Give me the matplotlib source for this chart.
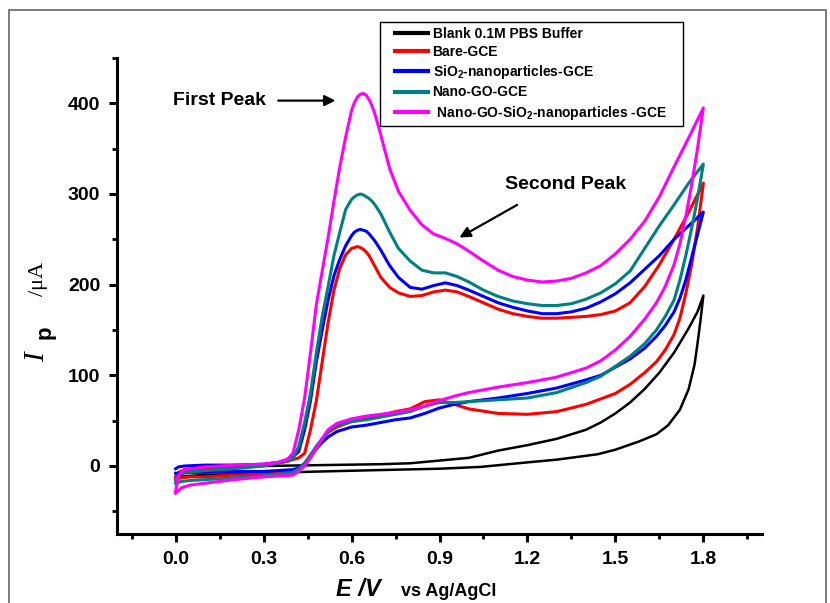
import matplotlib
matplotlib.use('Agg')
import matplotlib.pyplot as plt
from matplotlib.ticker import MultipleLocator, FixedLocator
from matplotlib.patches import Rectangle

plt.rcParams['font.family'] = ['Liberation Sans', 'DejaVu Sans']
plt.rcParams['font.weight'] = 'bold'
plt.rcParams['mathtext.fontset'] = 'custom'
plt.rcParams['mathtext.rm'] = 'Liberation Sans:bold'
plt.rcParams['mathtext.bf'] = 'Liberation Sans:bold'
plt.rcParams['mathtext.it'] = 'Liberation Sans:bold:italic'
plt.rcParams['mathtext.default'] = 'bf'

# potential grid of the anodic sweep (0 -> 1.8 V) and the return sweep
E_fwd = [0.0, 0.01, 0.03, 0.1, 0.2, 0.3, 0.35, 0.38,
         0.40, 0.42, 0.44, 0.46, 0.48, 0.50, 0.52, 0.54, 0.56, 0.58, 0.60,
         0.61, 0.62, 0.63, 0.64, 0.65, 0.66, 0.67, 0.68,
         0.70, 0.73, 0.76,
         0.80, 0.84, 0.88, 0.92, 0.96,
         1.00, 1.05, 1.10, 1.15, 1.20, 1.25, 1.30, 1.35, 1.40, 1.45, 1.50,
         1.55, 1.60, 1.65, 1.70, 1.75, 1.80]
E_rev = [1.80, 1.78, 1.76, 1.74, 1.72, 1.70, 1.67, 1.64, 1.60, 1.55, 1.50,
         1.45, 1.40, 1.30, 1.20, 1.10, 1.00, 0.95, 0.90, 0.85, 0.80, 0.75,
         0.70, 0.65, 0.60, 0.55, 0.52, 0.50, 0.48, 0.46, 0.44, 0.42, 0.40,
         0.35, 0.30, 0.20, 0.10, 0.05, 0.02, 0.00]

# blank buffer has its own grid
E_blank_fwd = [0.0, 0.02, 0.05, 0.1, 0.2, 0.3, 0.5, 0.7, 0.8, 0.9, 1.0, 1.05,
               1.1, 1.2, 1.3, 1.4, 1.45, 1.5, 1.55, 1.6, 1.65, 1.7, 1.75,
               1.78, 1.8]
I_blank_fwd = [-15, -8, -5, -3, -1, 0, 1, 2, 3, 6, 9, 13, 17, 23, 30, 40, 48,
               58, 70, 85, 103, 125, 152, 170, 188]
E_blank_rev = [1.8, 1.79, 1.78, 1.77, 1.75, 1.72, 1.68, 1.64, 1.58, 1.5,
               1.44, 1.3, 1.2, 1.04, 0.9, 0.76, 0.5, 0.38, 0.2, 0.085, 0.0]
I_blank_rev = [188, 160, 135, 112, 85, 62, 45, 35, 27, 18, 13, 7, 4, -1, -3,
               -4, -6, -7, -9, -10, -12]

I_bare_fwd = [-12, -7, -4, -3, -1, 1, 3, 5,
              7, 9, 14, 40, 72, 115, 158, 194, 218, 233, 240,
              241, 242, 241, 239, 236, 232, 226, 220,
              208, 197, 191,
              187, 188, 192, 194, 192,
              187, 180, 173, 168, 165, 163, 163, 164, 165, 167, 171,
              180, 198, 222, 250, 280, 312]
I_bare_rev = [312, 262, 222, 190, 163, 145, 128, 115, 103, 90, 80, 74, 68, 60,
              57, 58, 63, 68, 73, 71, 63, 60, 56, 52, 49, 43, 37, 30, 21, 12,
              3, -4, -6, -8, -9, -10, -12, -12, -13, -15]

I_sio2_fwd = [-3, -1, 0, 1, 1, 2, 4, 7,
              10, 16, 40, 72, 115, 150, 183, 210, 228, 243, 254,
              258, 260, 261, 260, 259, 256, 252, 248,
              238, 221, 208,
              197, 195, 199, 202, 199,
              194, 187, 180, 175, 171, 168, 168, 170, 174, 181, 190,
              202, 217, 232, 250, 265, 280]
I_sio2_rev = [280, 255, 230, 205, 185, 170, 155, 143, 130, 118, 109, 100, 95,
              86, 80, 75, 71, 68, 64, 58, 53, 51, 48, 45, 43, 38, 32, 26, 19,
              10, 3, -2, -4, -5, -6, -6, -7, -7, -8, -8]

I_go_fwd = [-16, -10, -7, -5, -3, 0, 3, 6,
            8, 22, 48, 80, 125, 165, 198, 232, 258, 283, 294,
            297, 299, 300, 299, 297, 295, 292, 288,
            278, 258, 240,
            226, 216, 213, 213, 209,
            203, 194, 187, 182, 179, 177, 177, 179, 184, 191, 201,
            215, 240, 265, 288, 312, 333]
I_go_rev = [333, 295, 262, 232, 205, 183, 165, 150, 135, 121, 110, 99, 92, 81,
            75, 73, 71, 70, 70, 66, 60, 57, 54, 51, 49, 45, 38, 30, 22, 12, 3,
            -3, -7, -9, -11, -13, -15, -16, -17, -19]

I_gosio2_fwd = [-28, -10, -4, -1, 1, 2, 4, 7,
                14, 40, 75, 125, 178, 215, 252, 292, 330, 363, 392,
                401, 407, 410, 411, 409, 404, 397, 388,
                365, 328, 303,
                282, 266, 256, 251, 245,
                237, 226, 216, 209, 205, 203, 204, 207, 213, 221, 234,
                250, 270, 297, 330, 362, 395]
I_gosio2_rev = [395, 350, 310, 275, 245, 222, 198, 180, 162, 143, 128, 116,
                108, 98, 92, 87, 81, 77, 72, 66, 62, 59, 57, 55, 52, 47, 40,
                30, 20, 9, 0, -6, -10, -11, -12, -15, -19, -21, -24, -30]

labels = ['Blank 0.1M PBS Buffer', 'Bare-GCE', 'SiO$_2$-nanoparticles-GCE',
          'Nano-GO-GCE', ' Nano-GO-SiO$_2$-nanoparticles -GCE']
colors = ['#000000', '#ff0000', '#0000ff', '#008080', '#ff00ff']

x_ticks = [0.0, 0.3, 0.6, 0.9, 1.2, 1.5, 1.8]
y_ticks = [0, 100, 200, 300, 400]

W, H = 830, 603
fig = plt.figure(figsize=(W / 100, H / 100), dpi=100)
ax = fig.add_axes([117 / W, 1 - 534 / H, 645 / W, 476 / H])

curves = [
    (E_blank_fwd + E_blank_rev, I_blank_fwd + I_blank_rev, 1.8),
    (E_fwd + E_rev, I_bare_fwd + I_bare_rev, 2.2),
    (E_fwd + E_rev, I_sio2_fwd + I_sio2_rev, 2.2),
    (E_fwd + E_rev, I_go_fwd + I_go_rev, 2.2),
    (E_fwd + E_rev, I_gosio2_fwd + I_gosio2_rev, 2.2),
]
for (x, y, lw), lab, c in zip(curves, labels, colors):
    ax.plot(x, y, color=c, lw=lw, label=lab, solid_joinstyle='round')

ax.set_xlim(-0.2, 2.0)
ax.set_ylim(-75, 450)
ax.xaxis.set_major_locator(FixedLocator(x_ticks))
ax.xaxis.set_minor_locator(MultipleLocator(0.15))
ax.yaxis.set_major_locator(FixedLocator(y_ticks))
ax.yaxis.set_minor_locator(MultipleLocator(50))
ax.set_xticklabels(['%.1f' % v for v in x_ticks])

for s in ['top', 'right']:
    ax.spines[s].set_visible(False)
for s in ['left', 'bottom']:
    ax.spines[s].set_linewidth(2.2)
ax.tick_params(which='major', direction='out', length=6, width=2.2,
               labelsize=14)
ax.tick_params(which='minor', direction='out', length=3.5, width=2)
ax.tick_params(axis='x', which='major', pad=6)
ax.tick_params(axis='y', which='major', pad=6)

# legend without its own frame; the box is drawn separately
leg = ax.legend(loc='upper left', bbox_to_anchor=(395 / W, 1 - 27 / H),
                bbox_transform=fig.transFigure, borderaxespad=0,
                borderpad=0, fontsize=10, handlelength=2.35,
                handletextpad=0.35, labelspacing=0.3, frameon=False)
for ln in leg.get_lines():
    ln.set_linewidth(3)
fig.patches.append(Rectangle((380 / W, 1 - 126 / H), 303 / W, 104 / H,
                             transform=fig.transFigure, fill=False,
                             edgecolor='black', lw=1.0, zorder=5))

ax.text(0.15, 403, 'First Peak', fontsize=14, fontweight='bold',
        ha='center', va='center')
ax.annotate('', xy=(0.545, 403), xytext=(0.35, 403),
            arrowprops=dict(arrowstyle='-|>', lw=1.6, color='black',
                            mutation_scale=16, shrinkA=0, shrinkB=0))
ax.text(1.33, 310, 'Second Peak', fontsize=14, fontweight='bold',
        ha='center', va='center')
ax.annotate('', xy=(0.968, 252), xytext=(1.165, 288),
            arrowprops=dict(arrowstyle='-|>', lw=1.6, color='black',
                            mutation_scale=16, shrinkA=0, shrinkB=0))

# y label: I (serif italic), p (bold sans, lowered), /uA (serif)
fig.text(44 / W, 1 - 362 / H, 'I', rotation=90, rotation_mode='anchor',
         ha='left', va='baseline', fontsize=21, family='Liberation Serif',
         style='italic', weight='normal')
fig.text(51 / W, 1 - 339 / H, 'p', rotation=90, rotation_mode='anchor',
         ha='left', va='baseline', fontsize=16, weight='bold')
fig.text(43 / W, 1 - 296 / H, '/\u03bcA', rotation=90, rotation_mode='anchor',
         ha='left', va='baseline', fontsize=16, family='Liberation Serif',
         weight='normal')

# x label
fig.text(336 / W, 1 - 596 / H, 'E /V', fontsize=17, weight='bold',
         style='italic', ha='left', va='baseline')
fig.text(401 / W, 1 - 596 / H, 'vs Ag/AgCl', fontsize=13, weight='bold',
         ha='left', va='baseline')

# thin frame around the whole picture
fig.patches.append(Rectangle((9 / W, -0.01), 817 / W, 1 - 10 / H + 0.01,
                             transform=fig.transFigure, fill=False,
                             edgecolor='#666666', lw=1.2))

fig.savefig('out.png', dpi=100)
